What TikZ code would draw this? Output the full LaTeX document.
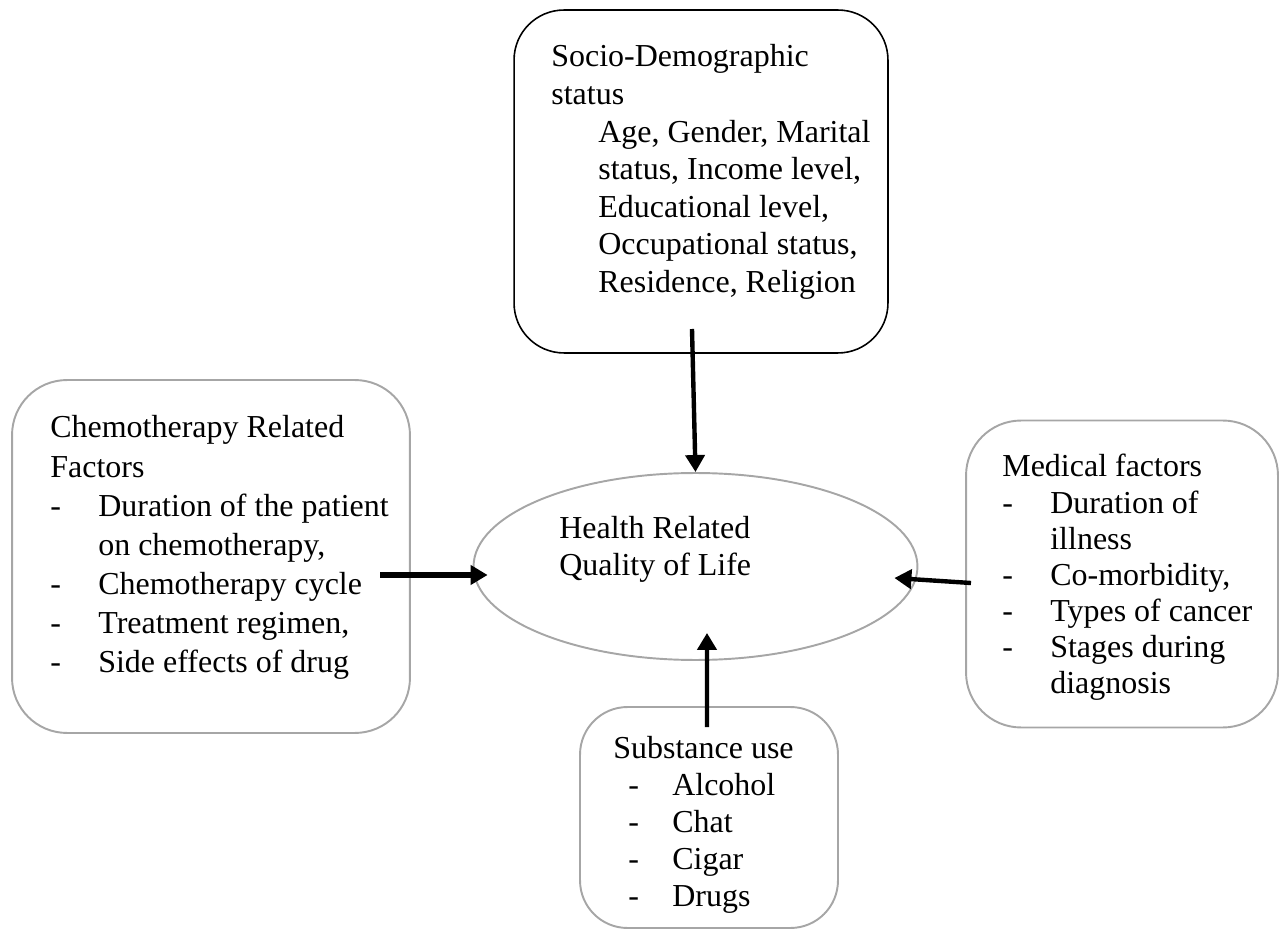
\documentclass[tikz,border=0pt]{standalone}
\usepackage{fontspec}
\setmainfont{Liberation Serif}
\usetikzlibrary{calc,arrows.meta,shapes.geometric}
\definecolor{boxgray}{HTML}{A6A6A6}
\newcommand{\txtsize}[1]{\fontsize{18.2pt}{#1}\selectfont}
\newcommand{\hd}[1]{\multicolumn{2}{@{}l@{}}{#1}}

\begin{document}
\begin{tikzpicture}[x=0.02cm,y=-0.02cm,
    box/.style={draw=boxgray,line width=1.1pt,rounded corners=1.1cm,inner sep=0pt},
    lbl/.style={anchor=base west,inner sep=0pt},
    arr/.style={-{Triangle[length=0.34cm,width=0.38cm]},line width=2.5pt}]
    \useasboundingbox (0,0) rectangle (1281,935);
    % boxes and the ellipse
    \node[box,draw=black,line width=0.9pt,rounded corners=1cm,minimum width=7.48cm,minimum height=6.86cm] (sds) at (701,181.5) {};
    \node[box,minimum width=7.96cm,minimum height=7.06cm] (chemo) at (211,556.5) {};
    \node[box,minimum width=6.24cm,minimum height=6.14cm] (medic) at (1122,574) {};
    \node[box,rounded corners=0.95cm,minimum width=5.16cm,minimum height=4.42cm] (subst) at (709,817.5) {};
    \node[draw=boxgray,line width=1.1pt,ellipse,inner sep=0pt,minimum width=8.88cm,minimum height=3.74cm] (hrqol) at (695.5,566.5) {};
    % texts
    \node[lbl,font=\txtsize{21.4pt}] (sdsText) at (551,67) {\begin{tabular}[t]{@{}p{0.94cm}@{}l@{}}
        \hd{Socio-Demographic}\\ \hd{status}\\
        & Age, Gender, Marital\\ & status, Income level,\\ & Educational level,\\
        & Occupational status,\\ & Residence, Religion
    \end{tabular}};
    \node[lbl,font=\txtsize{22.2pt}] (chemoText) at (50,438) {\begin{tabular}[t]{@{}p{0.96cm}@{}l@{}}
        \hd{Chemotherapy Related}\\ \hd{Factors}\\
        - & Duration of the patient\\ & on chemotherapy,\\ - & Chemotherapy cycle\\
        - & Treatment regimen,\\ - & Side effects of drug
    \end{tabular}};
    \node[lbl,font=\txtsize{20.5pt}] (medicText) at (1002,477) {\begin{tabular}[t]{@{}p{0.96cm}@{}l@{}}
        \hd{Medical factors}\\
        - & Duration of\\ & illness\\ - & Co-morbidity,\\ - & Types of cancer\\
        - & Stages during\\ & diagnosis
    \end{tabular}};
    \node[lbl,font=\txtsize{21.2pt}] (substText) at (613,758) {\begin{tabular}[t]{@{}p{1.18cm}@{}l@{}}
        \hd{Substance use}\\
        \hspace*{0.3cm}- & Alcohol\\ \hspace*{0.3cm}- & Chat\\
        \hspace*{0.3cm}- & Cigar\\ \hspace*{0.3cm}- & Drugs
    \end{tabular}};
    \node[lbl,font=\txtsize{21pt}] (hrqolText) at (559,539) {\begin{tabular}[t]{@{}l@{}}
        Health Related\\ Quality of Life
    \end{tabular}};
    % arrows
    \coordinate (sdsFoot) at (692,329);
    \coordinate (chemoTail) at (380,575);
    \coordinate (medicTail) at (971,583);
    \coordinate (substTop) at (707,727);
    \draw[arr] (sdsFoot) -- (hrqol.north);
    \draw[arr,line width=3.2pt] (chemoTail) -- ($(hrqol.west)+(15,8.5)$);
    \draw[arr] (medicTail) -- ($(hrqol.east)+(-24,11.5)$);
    \draw[arr] (substTop) -- ($(hrqol.south)+(11.5,-28)$);
\end{tikzpicture}
\end{document}
